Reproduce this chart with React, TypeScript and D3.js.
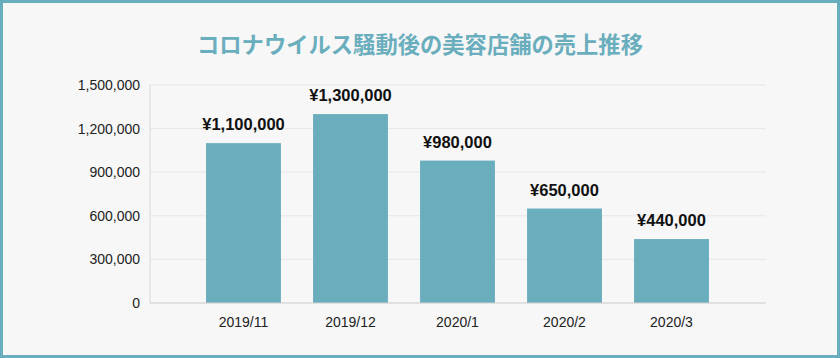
import React from "react";
import * as d3 from "d3";

const categories = ["2019/11", "2019/12", "2020/1", "2020/2", "2020/3"];
const sales = [1100000, 1300000, 980000, 650000, 440000];
const yTicks = [0, 300000, 600000, 900000, 1200000, 1500000];
const title = "コロナウイルス騒動後の美容店舗の売上推移";

const W = 840;
const H = 358;
const teal = "#6aaebe";

export default function App() {
  const x = d3.scaleBand<string>().domain(categories).range([190, 725]).paddingInner(0.3).paddingOuter(0.15);
  const y = d3.scaleLinear().domain([0, 1500000]).range([303, 85]);
  const fmt = d3.format(",");
  const font = "'Liberation Sans', Arial, Helvetica, sans-serif";
  return (
    <div style={{ position: "fixed", left: 0, top: 0 }}>
      <svg width={W} height={H} style={{ display: "block" }}>
        <rect x={1.5} y={1.5} width={W - 3} height={H - 3} fill="#f7f7f7" stroke={teal} strokeWidth={3} />
        <text x={W / 2} y={53} textAnchor="middle" fill={teal} fontSize={22.3} fontWeight="bold"
          fontFamily="'Noto Sans CJK JP', sans-serif">{title}</text>
        {yTicks.map((t) => (
          <g key={t}>
            {t > 0 && <line x1={150} x2={766} y1={y(t)} y2={y(t)} stroke="#e6e6e6" strokeWidth={1} />}
            <text x={140} y={y(t) + 5} textAnchor="end" fontSize={14} fill="#222" fontFamily={font}>{fmt(t)}</text>
          </g>
        ))}
        <line x1={150} x2={150} y1={85} y2={303} stroke="#d9d9d9" strokeWidth={1} />
        {categories.map((c, i) => (
          <g key={c}>
            <rect x={x(c)} y={y(sales[i])} width={x.bandwidth()} height={y(0) - y(sales[i])} fill={teal} />
            <text x={(x(c) as number) + x.bandwidth() / 2} y={y(sales[i]) - 13} textAnchor="middle" fontSize={16.5}
              fontWeight="bold" fill="#111" fontFamily={font}>{"¥" + fmt(sales[i])}</text>
            <text x={(x(c) as number) + x.bandwidth() / 2} y={327} textAnchor="middle" fontSize={14} fill="#222"
              fontFamily={font}>{c}</text>
          </g>
        ))}
        <line x1={150} x2={766} y1={303} y2={303} stroke="#cccccc" strokeWidth={1.2} />
      </svg>
    </div>
  );
}
